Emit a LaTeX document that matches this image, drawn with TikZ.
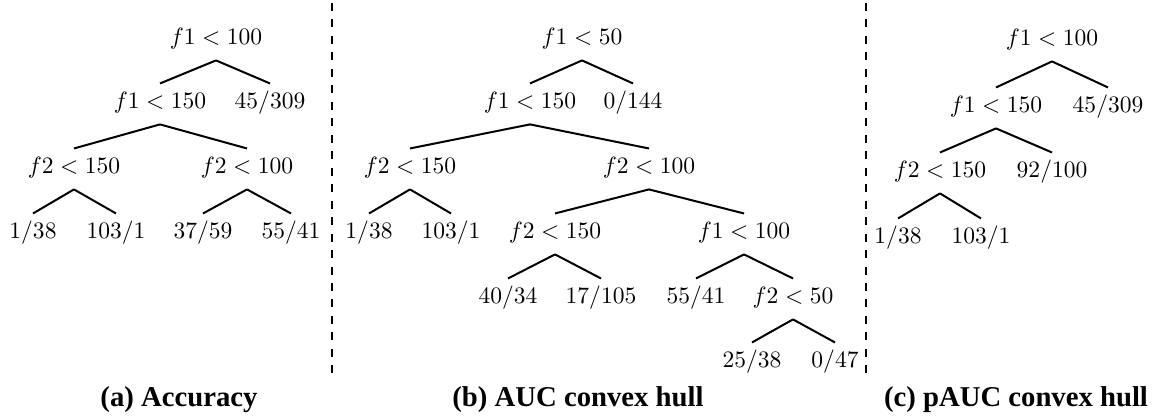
\documentclass[tikz,border=0pt]{standalone}
\usepackage{fontspec}
\newfontfamily\capfont{Liberation Serif}[BoldFont={Liberation Serif Bold}]
\begin{document}
\begin{tikzpicture}[x=0.425pt,y=-0.425pt,
  lbl/.style={inner sep=0pt,text height=7pt,text depth=2pt,font=\normalsize},
  edge/.style={line width=0.85pt},
  sep/.style={line width=0.9pt,dash pattern=on 3.4pt off 3.6pt},
  captext/.style={inner sep=0pt,font=\capfont\bfseries\fontsize{12.2}{14}\selectfont}]
\useasboundingbox (0,0) rectangle (1157,417);
\newcommand\edg[2]{\draw[edge] ([yshift=-4.4pt]#1.south) -- ([yshift=3.6pt]#2.north);}
% panel (a)
\node[lbl] (a0) at (216,39) {$f1<100$};
\node[lbl] (a1) at (160,103) {$f1<150$};
\node[lbl] (a2) at (270,103) {$45/309$};
\node[lbl] (a3) at (74,168) {$f2<150$};
\node[lbl] (a4) at (247,168) {$f2<100$};
\node[lbl] (a5) at (33,233) {$1/38$};
\node[lbl] (a6) at (116,233) {$103/1$};
\node[lbl] (a7) at (203,233) {$37/59$};
\node[lbl] (a8) at (291,233) {$55/41$};
\edg{a0}{a1}\edg{a0}{a2}
\edg{a1}{a3}\edg{a1}{a4}
\edg{a3}{a5}\edg{a3}{a6}
\edg{a4}{a7}\edg{a4}{a8}
% panel (b)
\node[lbl] (b0) at (582,39) {$f1<50$};
\node[lbl] (b1) at (530,103) {$f1<150$};
\node[lbl] (b2) at (633,103) {$0/144$};
\node[lbl] (b3) at (410,168) {$f2<150$};
\node[lbl] (b4) at (649,168) {$f2<100$};
\node[lbl] (b5) at (369,233) {$1/38$};
\node[lbl] (b6) at (451,233) {$103/1$};
\node[lbl] (b7) at (555,233) {$f2<150$};
\node[lbl] (b8) at (744,233) {$f1<100$};
\node[lbl] (b9) at (508,298) {$40/34$};
\node[lbl] (b10) at (601,298) {$17/105$};
\node[lbl] (b11) at (696,298) {$55/41$};
\node[lbl] (b12) at (793,298) {$f2<50$};
\node[lbl] (b13) at (752,362) {$25/38$};
\node[lbl] (b14) at (835,362) {$0/47$};
\edg{b0}{b1}\edg{b0}{b2}
\edg{b1}{b3}\edg{b1}{b4}
\edg{b3}{b5}\edg{b3}{b6}
\edg{b4}{b7}\edg{b4}{b8}
\edg{b7}{b9}\edg{b7}{b10}
\edg{b8}{b11}\edg{b8}{b12}
\edg{b12}{b13}\edg{b12}{b14}
% panel (c)
\node[lbl] (c0) at (1052,40) {$f1<100$};
\node[lbl] (c1) at (996,107) {$f1<150$};
\node[lbl] (c2) at (1108,107) {$45/309$};
\node[lbl] (c3) at (940,172) {$f2<150$};
\node[lbl] (c4) at (1052,172) {$92/100$};
\node[lbl] (c5) at (898,238) {$1/38$};
\node[lbl] (c6) at (981,238) {$103/1$};
\edg{c0}{c1}\edg{c0}{c2}
\edg{c1}{c3}\edg{c1}{c4}
\edg{c3}{c5}\edg{c3}{c6}
% separators
\coordinate (s1t) at (332,3);
\coordinate (s1b) at (332,377);
\coordinate (s2t) at (866,3);
\coordinate (s2b) at (866,377);
\draw[sep] (s1t) -- (s1b);
\draw[sep] (s2t) -- (s2b);
% captions
\node[captext] (capa) at (179,400) {(a) Accuracy};
\node[captext] (capb) at (578,400) {(b) AUC convex hull};
\node[captext] (capc) at (1016,400) {(c) pAUC convex hull};
\end{tikzpicture}
\end{document}
